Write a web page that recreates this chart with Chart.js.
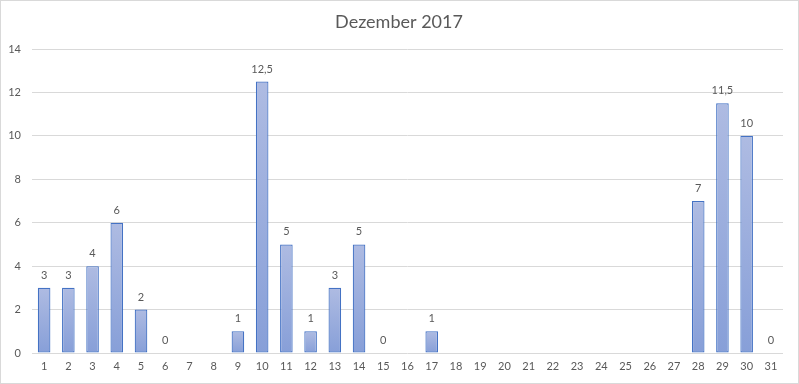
<!DOCTYPE html>
<html>
<head>
<meta charset="utf-8">
<script src="https://cdn.jsdelivr.net/npm/chart.js@4"></script>
<style>
  html, body { margin: 0; padding: 0; background: #fff; }
  canvas { display: block; }
</style>
</head>
<body>
<canvas id="chart" width="799" height="384"></canvas>
<script>
const chart_title = 'Dezember 2017';
const days = ['1','2','3','4','5','6','7','8','9','10','11','12','13','14','15','16',
  '17','18','19','20','21','22','23','24','25','26','27','28','29','30','31'];
const values = [3, 3, 4, 6, 2, 0, null, null, 1, 12.5, 5, 1, 3, 5, 0, null,
  1, null, null, null, null, null, null, null, null, null, null, 7, 11.5, 10, 0];

const text_color = '#595959';
const font_family = 'Lato, "Open Sans", sans-serif';

function bar_gradient(context) {
  const chart = context.chart;
  const value = values[context.dataIndex];
  if (!chart.chartArea || !chart.scales.y || value == null) return '#9aaddd';
  const top = chart.scales.y.getPixelForValue(value);
  const bottom = chart.scales.y.getPixelForValue(0);
  const g = chart.ctx.createLinearGradient(0, top, 0, bottom + 0.01);
  g.addColorStop(0, '#aebbe2');
  g.addColorStop(1, '#879fd8');
  return g;
}

// Werte über den Balken und Titel/Rahmen zeichnen
const extras = {
  id: 'extras',
  afterDatasetsDraw(chart) {
    const ctx = chart.ctx;
    const meta = chart.getDatasetMeta(0);
    ctx.save();
    ctx.font = '11px ' + font_family;
    ctx.fillStyle = text_color;
    ctx.textAlign = 'center';
    ctx.textBaseline = 'bottom';
    meta.data.forEach((bar, i) => {
      const v = values[i];
      if (v == null) return;
      ctx.fillText(String(v).replace('.', ','), bar.x, bar.y - 7);
    });
    ctx.restore();
  },
  afterDraw(chart) {
    const ctx = chart.ctx;
    ctx.save();
    ctx.font = '18px ' + font_family;
    ctx.fillStyle = text_color;
    ctx.textAlign = 'center';
    ctx.textBaseline = 'middle';
    ctx.fillText(chart_title, 399, 22);
    ctx.strokeStyle = '#d9d9d9';
    ctx.lineWidth = 1;
    ctx.strokeRect(0.5, 0.5, 798, 383);
    ctx.restore();
  }
};

new Chart(document.getElementById('chart').getContext('2d'), {
  type: 'bar',
  data: {
    labels: days,
    datasets: [{
      data: values,
      backgroundColor: bar_gradient,
      borderColor: '#4472c4',
      borderWidth: 1.2,
      borderSkipped: false,
      barPercentage: 0.52,
      categoryPercentage: 1
    }]
  },
  options: {
    responsive: false,
    animation: false,
    layout: { padding: { top: 49, right: 16, left: 0, bottom: 0 } },
    plugins: {
      legend: { display: false },
      title: { display: false },
      tooltip: { enabled: false }
    },
    scales: {
      x: {
        grid: { display: false, drawTicks: false },
        border: { display: false },
        ticks: { color: text_color, font: { family: font_family, size: 11 }, padding: 7, maxRotation: 0, autoSkip: false },
        afterFit(scale) { scale.height = 31; }
      },
      y: {
        min: 0,
        max: 14,
        grid: { color: '#d9d9d9', drawTicks: false },
        border: { display: false },
        ticks: { stepSize: 2, color: text_color, font: { family: font_family, size: 11 }, padding: 11 },
        afterFit(scale) { scale.width = 32; }
      }
    }
  },
  plugins: [extras]
});
</script>
</body>
</html>
